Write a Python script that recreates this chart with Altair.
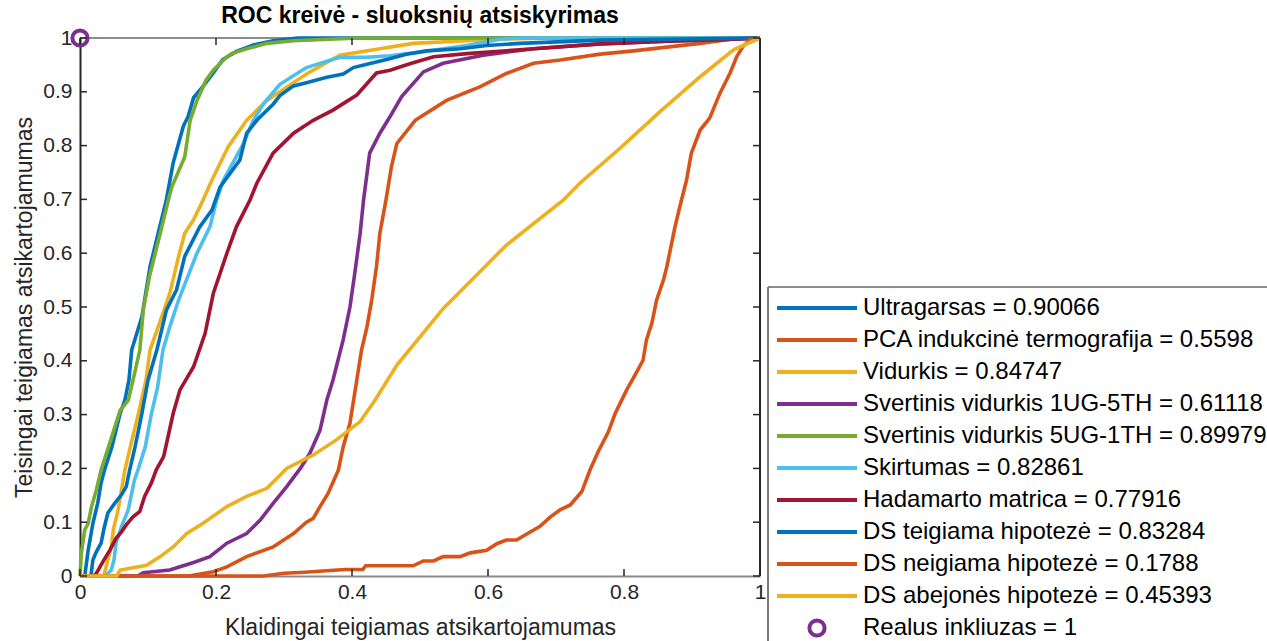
import altair as alt
import pandas as pd

# ---------------- data ----------------
names = [
    "Ultragarsas = 0.90066",
    "PCA indukcinė termografija = 0.5598",
    "Vidurkis = 0.84747",
    "Svertinis vidurkis 1UG-5TH = 0.61118",
    "Svertinis vidurkis 5UG-1TH = 0.89979",
    "Skirtumas = 0.82861",
    "Hadamarto matrica = 0.77916",
    "DS teigiama hipotezė = 0.83284",
    "DS neigiama hipotezė = 0.1788",
    "DS abejonės hipotezė = 0.45393",
    "Realus inkliuzas = 1",
]
colors = ["#0072BD", "#D95319", "#EDB120", "#7E2F8E", "#77AC30", "#4DBEEE",
          "#A2142F", "#0072BD", "#D95319", "#EDB120", "#7E2F8E"]

ultra_x = [0, 0.007, 0.012, 0.019, 0.026, 0.031, 0.036, 0.047, 0.059, 0.066, 0.072, 0.076, 0.091, 0.103,
           0.115, 0.127, 0.137, 0.152, 0.159, 0.167, 0.179, 0.196, 0.21, 0.23, 0.255, 0.284, 0.32, 1]
ultra_y = [0, 0, 0.048, 0.098, 0.135, 0.173, 0.197, 0.24, 0.302, 0.327, 0.364, 0.42, 0.482, 0.575,
           0.637, 0.699, 0.768, 0.836, 0.854, 0.889, 0.907, 0.935, 0.96, 0.975, 0.987, 0.995, 1, 1]

pca_x = [0, 0.16, 0.196, 0.216, 0.245, 0.284, 0.314, 0.333, 0.343, 0.353, 0.365, 0.38, 0.387, 0.397,
         0.407, 0.414, 0.422, 0.429, 0.436, 0.441, 0.45, 0.458, 0.466, 0.493, 0.539, 0.588, 0.627,
         0.667, 0.706, 0.765, 0.814, 0.863, 0.912, 0.96, 1]
pca_y = [0, 0, 0.008, 0.017, 0.036, 0.054, 0.079, 0.1, 0.107, 0.129, 0.154, 0.197, 0.24, 0.284,
         0.364, 0.42, 0.463, 0.513, 0.575, 0.637, 0.699, 0.761, 0.804, 0.847, 0.884, 0.909, 0.934,
         0.953, 0.959, 0.97, 0.976, 0.983, 0.99, 0.998, 1]

vid_x = [0, 0.035, 0.041, 0.046, 0.049, 0.056, 0.061, 0.066, 0.074, 0.086, 0.097, 0.103, 0.115, 0.132,
         0.145, 0.154, 0.167, 0.181, 0.194, 0.218, 0.245, 0.275, 0.294, 0.333, 0.382, 0.441, 0.49,
         0.569, 0.62, 0.7, 1]
vid_y = [0, 0, 0.03, 0.054, 0.086, 0.123, 0.16, 0.197, 0.24, 0.302, 0.364, 0.42, 0.463, 0.525,
         0.594, 0.637, 0.662, 0.699, 0.736, 0.798, 0.847, 0.884, 0.9, 0.933, 0.968, 0.98, 0.99,
         0.995, 0.998, 1, 1]

sv1_x = [0, 0.085, 0.093, 0.132, 0.167, 0.191, 0.216, 0.245, 0.265, 0.284, 0.304, 0.324, 0.338, 0.353,
         0.363, 0.372, 0.377, 0.387, 0.397, 0.404, 0.412, 0.417, 0.426, 0.441, 0.456, 0.473, 0.505,
         0.534, 0.593, 0.667, 0.765, 0.863, 0.96, 1]
sv1_y = [0, 0, 0.006, 0.011, 0.025, 0.036, 0.061, 0.079, 0.104, 0.135, 0.166, 0.2, 0.228, 0.271,
         0.327, 0.364, 0.389, 0.439, 0.5, 0.562, 0.637, 0.699, 0.786, 0.823, 0.854, 0.891, 0.937,
         0.953, 0.968, 0.98, 0.989, 0.994, 0.998, 1]

sv5_x = [0, 0.002, 0.007, 0.012, 0.017, 0.024, 0.031, 0.042, 0.059, 0.071, 0.078, 0.088, 0.093, 0.102,
         0.118, 0.13, 0.135, 0.154, 0.162, 0.172, 0.181, 0.185, 0.196, 0.216, 0.223, 0.245, 0.275,
         0.314, 0.41, 1]
sv5_y = [0, 0.042, 0.086, 0.098, 0.129, 0.16, 0.197, 0.24, 0.308, 0.327, 0.364, 0.42, 0.494, 0.556,
         0.637, 0.699, 0.723, 0.779, 0.847, 0.884, 0.909, 0.921, 0.94, 0.965, 0.971, 0.98, 0.99,
         0.995, 1, 1]

skirt_x = [0, 0.037, 0.046, 0.05, 0.053, 0.061, 0.071, 0.08, 0.086, 0.096, 0.105, 0.114, 0.122, 0.132,
           0.145, 0.172, 0.191, 0.201, 0.211, 0.238, 0.255, 0.27, 0.294, 0.333, 0.382, 0.42, 0.456,
           0.5, 0.569, 0.62, 0.65, 1]
skirt_y = [0, 0, 0.011, 0.03, 0.061, 0.092, 0.123, 0.178, 0.2, 0.24, 0.302, 0.35, 0.42, 0.463,
           0.513, 0.6, 0.649, 0.699, 0.736, 0.798, 0.847, 0.878, 0.914, 0.945, 0.964, 0.964, 0.967,
           0.974, 0.986, 0.998, 1, 1]

hada_x = [0, 0.02, 0.024, 0.034, 0.044, 0.053, 0.061, 0.068, 0.078, 0.088, 0.095, 0.105, 0.112, 0.123,
          0.137, 0.147, 0.167, 0.184, 0.196, 0.216, 0.23, 0.25, 0.26, 0.284, 0.314, 0.343, 0.372,
          0.407, 0.436, 0.456, 0.485, 0.52, 0.569, 0.667, 0.765, 0.863, 0.96, 1]
hada_y = [0, 0, 0.005, 0.027, 0.048, 0.07, 0.082, 0.095, 0.11, 0.12, 0.148, 0.173, 0.197, 0.222,
          0.302, 0.346, 0.389, 0.451, 0.525, 0.6, 0.649, 0.699, 0.73, 0.786, 0.823, 0.847, 0.866,
          0.894, 0.935, 0.94, 0.952, 0.965, 0.971, 0.98, 0.989, 0.994, 0.998, 1]

dst_x = [0, 0.016, 0.019, 0.024, 0.031, 0.036, 0.041, 0.051, 0.061, 0.068, 0.073, 0.081, 0.091, 0.1,
         0.113, 0.127, 0.142, 0.154, 0.176, 0.194, 0.206, 0.235, 0.245, 0.26, 0.284, 0.294, 0.314,
         0.333, 0.363, 0.387, 0.402, 0.422, 0.451, 0.48, 0.51, 0.559, 0.598, 0.647, 0.765, 1]
dst_y = [0, 0, 0.03, 0.045, 0.061, 0.092, 0.117, 0.135, 0.151, 0.166, 0.197, 0.24, 0.302, 0.364,
         0.42, 0.494, 0.532, 0.594, 0.649, 0.68, 0.723, 0.773, 0.823, 0.847, 0.877, 0.893, 0.911,
         0.917, 0.927, 0.933, 0.945, 0.951, 0.96, 0.97, 0.976, 0.98, 0.986, 0.99, 0.996, 1]

dsn_x = [0, 0.27, 0.3, 0.33, 0.39, 0.416, 0.42, 0.49, 0.505, 0.52, 0.534, 0.559, 0.574, 0.598, 0.613,
         0.627, 0.642, 0.657, 0.676, 0.691, 0.706, 0.721, 0.738, 0.75, 0.762, 0.777, 0.787, 0.804,
         0.819, 0.828, 0.833, 0.841, 0.848, 0.858, 0.863, 0.875, 0.882, 0.892, 0.899, 0.912, 0.926,
         0.941, 0.956, 0.966, 0.975, 0.985, 1]
dsn_y = [0, 0, 0.005, 0.007, 0.012, 0.012, 0.019, 0.019, 0.028, 0.028, 0.036, 0.036, 0.043, 0.048,
         0.06, 0.067, 0.067, 0.078, 0.092, 0.109, 0.123, 0.132, 0.157, 0.197, 0.231, 0.268, 0.302,
         0.346, 0.38, 0.401, 0.439, 0.47, 0.513, 0.55, 0.575, 0.649, 0.686, 0.736, 0.786, 0.829,
         0.851, 0.897, 0.935, 0.966, 0.984, 0.997, 1]

dsa_x = [0, 0.054, 0.059, 0.098, 0.118, 0.137, 0.157, 0.181, 0.216, 0.245, 0.275, 0.304, 0.343, 0.377,
         0.412, 0.434, 0.466, 0.534, 0.627, 0.711, 0.735, 0.794, 0.853, 0.912, 0.961, 1]
dsa_y = [0, 0, 0.011, 0.02, 0.036, 0.054, 0.079, 0.098, 0.129, 0.148, 0.163, 0.2, 0.225, 0.253,
         0.287, 0.327, 0.392, 0.497, 0.615, 0.699, 0.73, 0.795, 0.863, 0.928, 0.978, 1]

real_x = [0]
real_y = [1]

x_ticks = [0, 0.2, 0.4, 0.6, 0.8, 1]
y_ticks = [0, 0.1, 0.2, 0.3, 0.4, 0.5, 0.6, 0.7, 0.8, 0.9, 1]

title_text = "ROC kreivė - sluoksnių atsiskyrimas"
x_title = "Klaidingai teigiamas atsikartojamumas"
y_title = "Teisingai teigiamas atsikartojamumas"

# ---------------- build tables ----------------
series_xy = [(ultra_x, ultra_y), (pca_x, pca_y), (vid_x, vid_y), (sv1_x, sv1_y), (sv5_x, sv5_y),
             (skirt_x, skirt_y), (hada_x, hada_y), (dst_x, dst_y), (dsn_x, dsn_y), (dsa_x, dsa_y)]
rows = []
for name, (xs, ys) in zip(names[:10], series_xy):
    for i, (a, b) in enumerate(zip(xs, ys)):
        rows.append({"series": name, "fpr": a, "tpr": b, "idx": i})
lines_df = pd.DataFrame(rows)
real_df = pd.DataFrame({"series": [names[10]], "fpr": real_x, "tpr": real_y})

W, H = 680, 538
FONT = "Liberation Sans"

line_path = "M-1,0H1"
circ_path = "M-0.19,0A0.19,0.19,0,1,1,0.19,0A0.19,0.19,0,1,1,-0.19,0Z"

color_scale = alt.Scale(domain=names, range=colors)
shape_scale = alt.Scale(domain=names, range=[line_path] * 10 + [circ_path])

leg = alt.Legend(title=None, orient="none", legendX=688, legendY=251,
                 symbolSize=6400, symbolStrokeWidth=4, clipHeight=32, rowPadding=0,
                 labelFontSize=24, labelFont=FONT, labelColor="#000000", padding=3,
                 symbolOffset=4, labelOffset=4, labelLimit=600)

xenc = alt.X("fpr:Q", scale=alt.Scale(domain=[0, 1], nice=False, zero=False),
             axis=alt.Axis(values=x_ticks, format="~g", title=x_title, labelFlush=False))
yenc = alt.Y("tpr:Q", scale=alt.Scale(domain=[0, 1], nice=False, zero=False),
             axis=alt.Axis(values=y_ticks, format="~g", title=y_title, labelFlush=False))

layers = []
for name in names[:10]:
    layers.append(
        alt.Chart(lines_df).transform_filter(alt.datum.series == name)
        .mark_line(strokeWidth=3.6)
        .encode(x=xenc, y=yenc,
                color=alt.Color("series:N", scale=color_scale, legend=leg),
                order="idx:Q")
    )

point = alt.Chart(real_df).mark_point(filled=False, size=6400, strokeWidth=4, opacity=1, clip=False).encode(
    x=xenc, y=yenc,
    color=alt.Color("series:N", scale=color_scale, legend=leg),
    shape=alt.Shape("series:N", scale=shape_scale, legend=leg),
)

# inward tick marks (MATLAB style)
xt = pd.DataFrame({"fpr": x_ticks})
yt = pd.DataFrame({"tpr": y_ticks})
TK = "#262626"
tick_left = alt.Chart(yt).mark_rule(color=TK, strokeWidth=1.5).encode(y=yenc, x=alt.value(0), x2=alt.value(7))
tick_right = alt.Chart(yt).mark_rule(color=TK, strokeWidth=1.5).encode(y=yenc, x=alt.value(W - 7), x2=alt.value(W))
tick_bot = alt.Chart(xt).mark_rule(color=TK, strokeWidth=1.5).encode(x=xenc, y=alt.value(H - 7), y2=alt.value(H))
tick_top = alt.Chart(xt).mark_rule(color=TK, strokeWidth=1.5).encode(x=xenc, y=alt.value(0), y2=alt.value(7))

# box (top / right) and legend frame
top_border = alt.Chart(xt).mark_rule(color="#8c8c8c", strokeWidth=2).encode(
    x=alt.value(0), x2=alt.value(W), y=alt.value(0))
right_border = alt.Chart(xt).mark_rule(color="#262626", strokeWidth=2).encode(
    x=alt.value(W), y=alt.value(0), y2=alt.value(H))
leg_top = alt.Chart(xt).mark_rule(color="#8c8c8c", strokeWidth=2).encode(
    x=alt.value(688), x2=alt.value(1300), y=alt.value(249))
leg_left = alt.Chart(xt).mark_rule(color="#7a7a7a", strokeWidth=2).encode(
    x=alt.value(688), y=alt.value(249), y2=alt.value(700))

chart = alt.layer(
    top_border, right_border, leg_top, leg_left,
    *layers, point, tick_left, tick_right, tick_bot, tick_top
).properties(
    width=W, height=H,
    title=alt.Title(title_text, fontSize=23, fontWeight="bold", font=FONT, color="#000000",
                    anchor="middle", offset=8, dy=14),
    autosize=alt.AutoSizeParams(type="none"),
    padding={"left": 80, "top": 38, "right": 507, "bottom": 65},
).configure_view(stroke=None).configure_axis(
    grid=False, tickSize=0, labelFont=FONT, labelFontSize=21, labelColor="#262626",
    titleFont=FONT, titleFontSize=23, titleFontWeight="normal", titleColor="#262626",
    domainWidth=2,
).configure_axisX(
    domainColor="#8c8c8c", labelPadding=5, titlePadding=14,
).configure_axisY(
    domainColor="#262626", labelPadding=8, titlePadding=6,
)

chart.save("out.html", embed_options={"renderer": "svg", "actions": False})
